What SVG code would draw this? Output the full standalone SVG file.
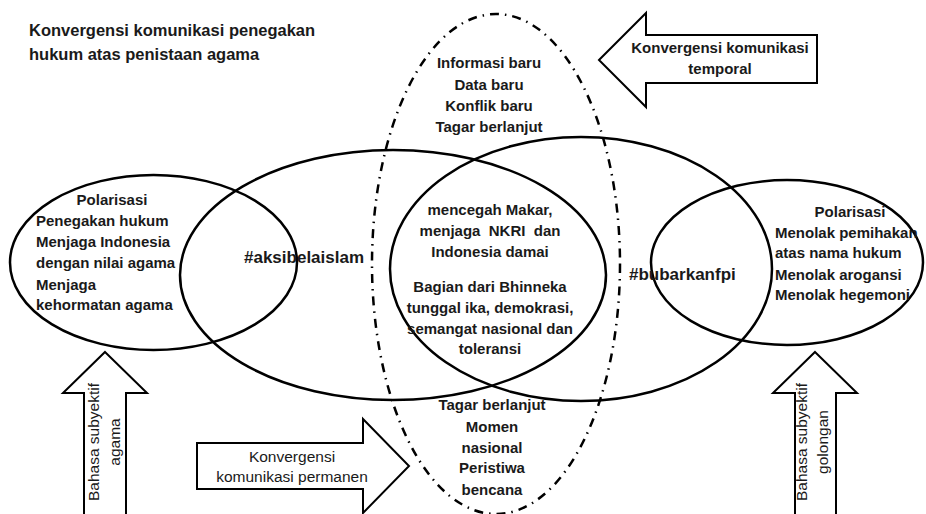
<svg xmlns="http://www.w3.org/2000/svg" width="926" height="514" viewBox="0 0 926 514">
<style>
  text { font-family: "Liberation Sans", Arial, sans-serif; fill: #1a1a1a; }
  .b { font-weight: bold; font-size: 15px; }
  .r { font-weight: normal; font-size: 15.5px; }
  .t { font-weight: bold; font-size: 16.5px; }
  .h { font-weight: bold; font-size: 17px; }
  .c { text-anchor: middle; }
  .ell { fill: none; stroke: #000; stroke-width: 2.5; }
  .dd { fill: none; stroke: #000; stroke-width: 2.5; stroke-dasharray: 9 6 1.5 6; stroke-linecap: butt; }
  .arr { fill: #fff; stroke: #000; stroke-width: 2; stroke-linejoin: miter; }
</style>
<rect width="926" height="514" fill="#fff"/>

<g id="title">
  <text class="t" x="29" y="36">Konvergensi komunikasi penegakan</text>
  <text class="t" x="29" y="60">hukum atas penistaan agama</text>
</g>

<g id="connectors">
  <ellipse id="temporal-ellipse" class="dd" cx="496" cy="264" rx="124" ry="250"/>
  <ellipse class="ell" cx="153.5" cy="262.5" rx="143.5" ry="87.5"/>
  <ellipse class="ell" cx="393" cy="275" rx="213" ry="125"/>
  <ellipse class="ell" cx="581" cy="269" rx="191" ry="132"/>
  <ellipse class="ell" cx="787" cy="262.5" rx="136" ry="82.5"/>
</g>

<g id="temporal-info">
  <text class="b c" x="489" y="68">Informasi baru</text>
  <text class="b c" x="489" y="90">Data baru</text>
  <text class="b c" x="489" y="111">Konflik baru</text>
  <text class="b c" x="489" y="132">Tagar berlanjut</text>
</g>

<g id="arrow-temporal">
  <path class="arr" d="M599,60 L646,13 L646,35 L817,35 L817,83 L646,83 L646,107 Z"/>
  <text class="b c" x="720" y="53">Konvergensi komunikasi</text>
  <text class="b c" x="720" y="74">temporal</text>
</g>

<g id="left-polarisasi">
  <text class="b c" x="112" y="205">Polarisasi</text>
  <text class="b" x="36" y="226">Penegakan hukum</text>
  <text class="b" x="36" y="247">Menjaga Indonesia</text>
  <text class="b" x="36" y="268">dengan nilai agama</text>
  <text class="b" x="36" y="290">Menjaga</text>
  <text class="b" x="36" y="310">kehormatan agama</text>
</g>

<g id="aksibelaislam">
  <text class="h" x="244" y="263">#aksibelaislam</text>
</g>

<g id="center">
  <text class="b c" x="490" y="215">mencegah Makar,</text>
  <text class="b c" x="490" y="236" xml:space="preserve">menjaga  NKRI  dan</text>
  <text class="b c" x="490" y="257">Indonesia damai</text>
  <text class="b c" x="490" y="292">Bagian dari Bhinneka</text>
  <text class="b c" x="490" y="313">tunggal ika, demokrasi,</text>
  <text class="b c" x="490" y="334">semangat nasional dan</text>
  <text class="b c" x="490" y="354">toleransi</text>
</g>

<g id="bubarkanfpi">
  <text class="h" x="629" y="280">#bubarkanfpi</text>
</g>

<g id="right-polarisasi">
  <text class="b c" x="850" y="217">Polarisasi</text>
  <text class="b" x="775" y="238">Menolak pemihakan</text>
  <text class="b" x="775" y="258">atas nama hukum</text>
  <text class="b" x="775" y="280">Menolak arogansi</text>
  <text class="b" x="775" y="300">Menolak hegemoni</text>
</g>

<g id="permanen-info">
  <text class="b c" x="492" y="410">Tagar berlanjut</text>
  <text class="b c" x="492" y="432">Momen</text>
  <text class="b c" x="492" y="453">nasional</text>
  <text class="b c" x="492" y="473">Peristiwa</text>
  <text class="b c" x="492" y="495">bencana</text>
</g>

<g id="arrow-permanen">
  <path class="arr" d="M197,443 L363,443 L363,419 L409,466 L363,513 L363,489 L197,489 Z"/>
  <text class="r c" x="292" y="462">Konvergensi</text>
  <text class="r c" x="292" y="482">komunikasi permanen</text>
</g>

<g id="arrow-agama">
  <path class="arr" d="M105,352 L147,393 L126,393 L126,520 L84,520 L84,393 L63,393 Z"/>
  <text class="r c" transform="translate(99,442) rotate(-90)">Bahasa subyektif</text>
  <text class="r c" transform="translate(120,442) rotate(-90)">agama</text>
</g>

<g id="arrow-golongan">
  <path class="arr" d="M815,352 L857,393 L836,393 L836,520 L795,520 L795,393 L773,393 Z"/>
  <text class="r c" transform="translate(807,442) rotate(-90)">Bahasa subyektif</text>
  <text class="r c" transform="translate(828,442) rotate(-90)">golongan</text>
</g>
</svg>
